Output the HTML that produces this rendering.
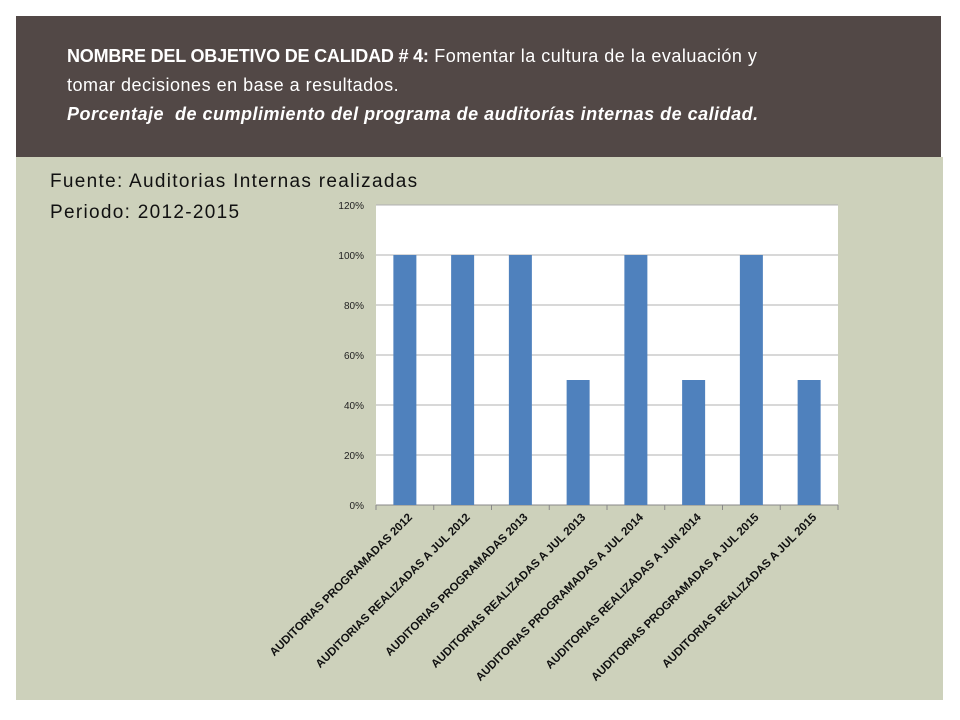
<!DOCTYPE html>
<html><head><meta charset="utf-8"><style>
body{margin:0;width:960px;height:720px;background:#fff;position:relative;overflow:hidden;font-family:"Liberation Sans",sans-serif}
#hdr{position:absolute;left:16px;top:16px;width:925px;height:141px;background:#524846}
#hdr div{position:absolute;left:51px;top:26px;width:720px;color:#fff;font-size:18px;line-height:29px;font-weight:bold;letter-spacing:0.5px}
#body{position:absolute;left:16px;top:157px;width:927px;height:543px;background:#cdd1bb}
.src{position:absolute;left:50px;font-size:19px;letter-spacing:1.3px;color:#111}
</style></head><body>
<div id="hdr"><div><span style="letter-spacing:-0.2px">NOMBRE DEL OBJETIVO DE CALIDAD # 4:</span> <span style="font-weight:normal">Fomentar la cultura de la evaluación y tomar decisiones en base a resultados.</span><br><i>Porcentaje &nbsp;de cumplimiento del programa de auditorías internas de calidad.</i></div></div>
<div id="body"></div>
<div class="src" style="top:171px">Fuente: Auditorias Internas realizadas</div>
<div class="src" style="top:202px">Periodo: 2012-2015</div>
<svg id="chart" width="960" height="720" style="position:absolute;left:0;top:0"></svg>
<script>
const categories=["AUDITORIAS PROGRAMADAS 2012","AUDITORIAS REALIZADAS A JUL 2012","AUDITORIAS PROGRAMADAS 2013","AUDITORIAS REALIZADAS A JUL 2013","AUDITORIAS PROGRAMADAS A JUL 2014","AUDITORIAS REALIZADAS A JUN 2014","AUDITORIAS PROGRAMADAS A JUL 2015","AUDITORIAS REALIZADAS A JUL 2015"];
const values=[100,100,100,50,100,50,100,50];
const ticks=[0,20,40,60,80,100,120];
const svg=document.getElementById('chart');const NS='http://www.w3.org/2000/svg';
const L=376,R=838,T=205,B=505,ymax=120;
const y=v=>B-(v/ymax)*(B-T);const bw=(R-L)/categories.length;const x=i=>L+bw*i;
function mk(t,a,p){const e=document.createElementNS(NS,t);for(const k in a)e.setAttribute(k,a[k]);(p||svg).appendChild(e);return e;}
const pa=mk('rect',{x:L,y:T,width:R-L,height:B-T,fill:'#fff'});


ticks.forEach(t=>{
 const g=mk('line',{x1:L,x2:R,y1:y(t),y2:y(t),stroke:'#b0b0b0','stroke-width':1});
 
 
 const tx=mk('text',{x:L-12,y:y(t)+4,'text-anchor':'end','font-size':10,fill:'#222','font-family':'Liberation Sans,sans-serif'});
 tx.textContent=t+'%';
 
 
});
const ax=mk('line',{x1:L,x2:R,y1:B,y2:B,stroke:'#888'});


for(let i=0;i<=categories.length;i++){const tk=mk('line',{x1:x(i),x2:x(i),y1:B,y2:B+5,stroke:'#888'});
 
 }
values.forEach((v,i)=>{
 const cx=x(i)+bw/2;
 const r=mk('rect',{x:cx-11.5,y:y(v),width:23,height:B-y(v),fill:'#4f81bd'});
 
 
 const t=mk('text',{x:cx+8,y:B+13,'text-anchor':'end','font-size':11.5,'font-weight':'bold',fill:'#111','font-family':'Liberation Sans,sans-serif',transform:`rotate(-45 ${cx+8} ${B+13})`});
 t.textContent=categories[i];
 
 
});
</script>
</body></html>
